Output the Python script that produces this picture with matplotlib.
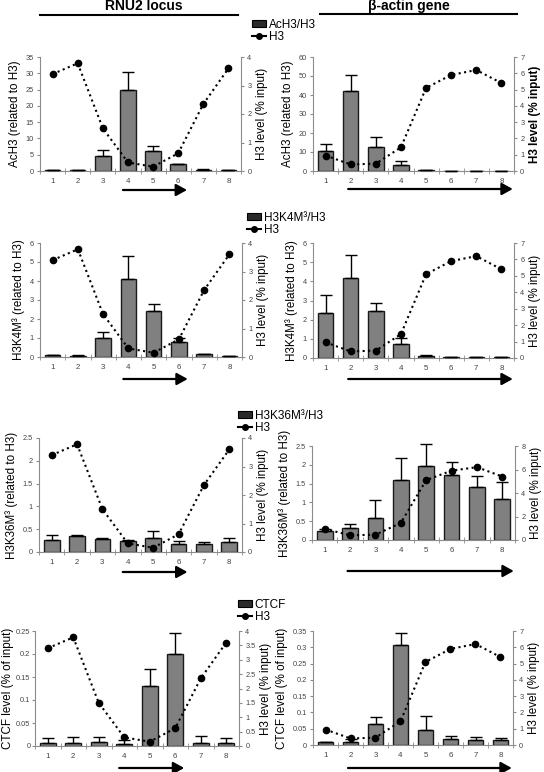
import numpy as np
import matplotlib
matplotlib.use("Agg")
import matplotlib.pyplot as plt
from matplotlib.patches import Patch
from matplotlib.lines import Line2D
from matplotlib.ticker import FuncFormatter
from matplotlib.transforms import blended_transform_factory

plt.rcParams.update({
    "font.family": ["Liberation Sans", "DejaVu Sans"],
    "font.size": 8.5,
})

W, H = 544, 772

# ---- data -----------------------------------------------------------------
regions = np.arange(1, 9)

h3_rnu2 = [3.4, 3.78, 1.5, 0.3, 0.15, 0.62, 2.35, 3.6]
h3_actin = [0.95, 0.4, 0.45, 1.45, 5.1, 5.9, 6.2, 5.4]

ach3_rnu2 = [0.3, 0.3, 4.5, 25.0, 6.0, 2.0, 0.4, 0.2]
ach3_rnu2_sd = [0.0, 0.0, 2.0, 5.5, 1.8, 0.2, 0.2, 0.0]
ach3_actin = [10.5, 42.0, 12.5, 3.0, 0.6, 0.2, 0.2, 0.2]
ach3_actin_sd = [3.5, 8.5, 5.5, 2.5, 0.0, 0.0, 0.0, 0.0]

k4_rnu2 = [0.1, 0.05, 1.0, 4.1, 2.4, 0.8, 0.15, 0.05]
k4_rnu2_sd = [0.0, 0.05, 0.3, 1.2, 0.4, 0.2, 0.0, 0.0]
k4_actin = [2.35, 4.2, 2.45, 0.75, 0.1, 0.05, 0.03, 0.03]
k4_actin_sd = [0.95, 1.2, 0.4, 0.3, 0.05, 0.0, 0.0, 0.0]

k36_rnu2 = [0.26, 0.34, 0.28, 0.25, 0.3, 0.18, 0.18, 0.23]
k36_rnu2_sd = [0.12, 0.03, 0.03, 0.02, 0.17, 0.07, 0.04, 0.07]
k36_actin = [0.25, 0.33, 0.58, 1.6, 1.97, 1.73, 1.4, 1.1]
k36_actin_sd = [0.03, 0.1, 0.49, 0.58, 0.58, 0.34, 0.3, 0.45]

ctcf_rnu2 = [0.007, 0.007, 0.009, 0.004, 0.13, 0.2, 0.007, 0.007]
ctcf_rnu2_sd = [0.011, 0.013, 0.011, 0.010, 0.037, 0.045, 0.015, 0.011]
ctcf_actin = [0.01, 0.01, 0.066, 0.307, 0.045, 0.019, 0.016, 0.016]
ctcf_actin_sd = [0.0, 0.008, 0.021, 0.036, 0.045, 0.009, 0.009, 0.006]

BAR = "#808080"
EDGE = "#1a1a1a"
AXC = "#8c8c8c"
TXT = "#444444"
TICK_FS = 5.3

fig = plt.figure(figsize=(W / 100, H / 100), dpi=100)


def box(x0, x1, y0, y1):
    return [x0 / W, 1 - y1 / H, (x1 - x0) / W, (y1 - y0) / H]


fmt = FuncFormatter(lambda v, p: f"{round(v, 4):g}")


def panel(b, vals, sd, h3, ymax, ystep, y2max, y2step, ylabel,
          arrow, arrow_y, y2bold=False, tickpad=2, labelpad=3):
    ax = fig.add_axes(box(*b))
    ax.bar(regions, vals, width=0.62, color=BAR, edgecolor=EDGE, lw=1,
           zorder=2)
    ax.errorbar(regions, vals, yerr=[np.zeros(8), sd], fmt="none",
                ecolor="black", elinewidth=1, capsize=4, capthick=1, zorder=3,
                clip_on=False)
    ax.set_xlim(0.5, 8.5)
    ax.set_ylim(0, ymax)
    ax.set_yticks(np.arange(0, ymax + ystep / 2, ystep))
    ax.yaxis.set_major_formatter(fmt)
    ax.set_xticks(regions)
    ax.set_xticks(np.arange(0.5, 9, 1), minor=True)
    ax.tick_params(axis="x", which="major", length=0, labelsize=TICK_FS + 0.4,
                   labelcolor=TXT, pad=5)
    ax.tick_params(axis="x", which="minor", length=4, direction="inout",
                   color=AXC)
    ax.tick_params(axis="y", length=2.5, color=AXC, labelsize=TICK_FS,
                   labelcolor=TXT, pad=tickpad)
    for s in ("top", "right"):
        ax.spines[s].set_visible(False)
    for s in ("left", "bottom"):
        ax.spines[s].set_color(AXC)
    ax.set_ylabel(ylabel, fontsize=8.4, labelpad=labelpad)

    ax2 = ax.twinx()
    ax2.plot(regions, h3, ls=":", color="black", lw=1.5, marker="o", ms=4.5,
             zorder=4)
    ax2.set_ylim(0, y2max)
    ax2.set_yticks(np.arange(0, y2max + y2step / 2, y2step))
    ax2.yaxis.set_major_formatter(fmt)
    ax2.tick_params(axis="y", length=2.5, color=AXC, labelsize=TICK_FS,
                    labelcolor=TXT, pad=2)
    for s in ("top", "left", "bottom"):
        ax2.spines[s].set_visible(False)
    ax2.spines["right"].set_color(AXC)
    ax2.set_ylabel("H3 level (% input)", fontsize=8.4, labelpad=3,
                   fontweight="bold" if y2bold else "normal")

    tr = blended_transform_factory(ax.transData, fig.transFigure)
    yf = 1 - arrow_y / H
    ax.annotate("", xy=(arrow[1], yf), xytext=(arrow[0], yf), xycoords=tr,
                textcoords=tr, annotation_clip=False,
                arrowprops=dict(arrowstyle="-|>,head_length=0.65,head_width=0.36",
                                lw=1.6, color="black", shrinkA=0, shrinkB=0,
                                mutation_scale=10))
    return ax


RNU2_ARROW = (3.8, 6.35)
ACTIN_ARROW = (1.9, 8.45)

panel((40, 241, 57, 171), ach3_rnu2, ach3_rnu2_sd, h3_rnu2, 35, 5, 4, 1,
      "AcH3 (related to H3)", RNU2_ARROW, 190)
panel((313, 514, 57, 171), ach3_actin, ach3_actin_sd, h3_actin, 60, 10, 7, 1,
      "AcH3 (related to H3)", ACTIN_ARROW, 189, y2bold=True)
panel((40, 242, 243, 357), k4_rnu2, k4_rnu2_sd, h3_rnu2, 6, 1, 4, 1,
      "H3K4M³ (related to H3)", RNU2_ARROW, 379)
panel((313, 514, 243, 358), k4_actin, k4_actin_sd, h3_actin, 6, 1, 7, 1,
      "H3K4M³ (related to H3)", ACTIN_ARROW, 379)
panel((39, 242, 438, 552), k36_rnu2, k36_rnu2_sd, h3_rnu2, 2.5, 0.5, 4, 1,
      "H3K36M³ (related to H3)", RNU2_ARROW, 572)
panel((312, 515, 446, 540), k36_actin, k36_actin_sd, h3_actin, 2.5, 0.5, 8, 2,
      "H3K36M³ (related to H3)", ACTIN_ARROW, 571)
panel((35, 239, 631, 746), ctcf_rnu2, ctcf_rnu2_sd, h3_rnu2, 0.25, 0.05, 4, 0.5,
      "CTCF level (% of input)", RNU2_ARROW, 768, tickpad=0.8, labelpad=1.2)
panel((313, 513, 631, 745), ctcf_actin, ctcf_actin_sd, h3_actin, 0.35, 0.05, 7, 1,
      "CTCF level (% of input)", ACTIN_ARROW, 768)

# ---- column headers --------------------------------------------------------
fig.text(144 / W, 1 - 6 / H, "RNU2 locus", ha="center", va="center",
         fontsize=10, fontweight="bold")
fig.text(409 / W, 1 - 6 / H, "β-actin gene", ha="center", va="center",
         fontsize=10, fontweight="bold")
fig.add_artist(Line2D([40 / W, 238 / W], [1 - 14.5 / H] * 2, color="black",
                      lw=1.5))
fig.add_artist(Line2D([320 / W, 517 / W], [1 - 14 / H] * 2, color="black",
                      lw=1.5))

# ---- legends ---------------------------------------------------------------
legend_specs = [("AcH3/H3", 252, 19), ("H3K4M³/H3", 247, 212),
                ("H3K36M³/H3", 238, 410), ("CTCF", 238, 599)]
for label, lx, ly in legend_specs:
    handles = [Patch(facecolor="#2a2a2a", edgecolor="black", lw=0.8),
               Line2D([], [], color="black", lw=1.5, marker="o", ms=4)]
    fig.legend(handles, [label, "H3"], loc="upper left",
               bbox_to_anchor=(lx / W, 1 - ly / H), frameon=False,
               fontsize=8.5, borderpad=0, borderaxespad=0, labelspacing=0,
               handlelength=1.2, handleheight=0.55, handletextpad=0.2)

fig.savefig("out.png", dpi=100)
